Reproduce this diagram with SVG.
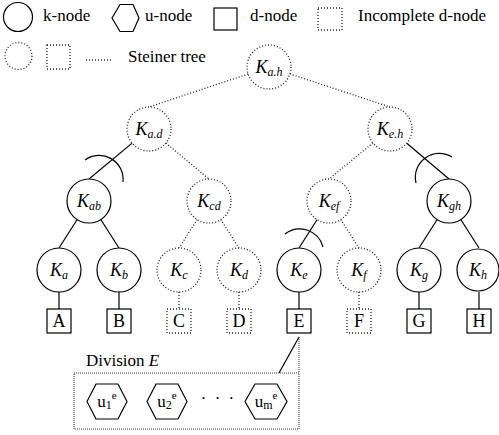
<svg xmlns="http://www.w3.org/2000/svg" width="499" height="435" viewBox="0 0 499 435" font-family="'Liberation Serif', 'Times New Roman', serif">
<style>
text, tspan{font-family:'Liberation Serif','Times New Roman',serif}
text{fill:#000}
.t{font-size:17px}
.s{fill:#fff;stroke:#000;stroke-width:1.2}
.sl{fill:none;stroke:#000;stroke-width:1.2}
.d{fill:#fff;stroke:#222;stroke-width:1.3;stroke-dasharray:1 2}
.dl{fill:none;stroke:#222;stroke-width:1.3;stroke-dasharray:1 2}
.lbl{font-size:18px;text-anchor:middle}
.k{font-style:italic}
.sub{font-size:12px;font-style:italic}
.box{font-size:18px;text-anchor:middle}
.hl{font-size:17px;text-anchor:middle}
</style>
<g id="legend">
<circle class="s" cx="18" cy="17" r="14.5"/>
<text class="t" x="43" y="21">k-node</text>
<polygon class="s" points="112,18 120,4.5 133,4.5 139,18 133,31.5 120,31.5"/>
<text class="t" x="145" y="21">u-node</text>
<rect class="s" x="214" y="8" width="23" height="22"/>
<text class="t" x="250" y="21">d-node</text>
<rect class="d" x="318" y="8" width="24" height="22"/>
<text class="t" x="358" y="21">Incomplete d-node</text>
<circle class="d" cx="18.5" cy="56" r="13.5"/>
<rect class="d" x="47" y="45" width="23" height="24"/>
<line class="dl" x1="86" y1="60" x2="113" y2="60"/>
<text class="t" x="128" y="62">Steiner tree</text>
</g>
<g id="connectors">
<line class="dl" x1="248.1" y1="74" x2="149" y2="107"/>
<line class="dl" x1="289.9" y1="73.9" x2="390" y2="107"/>
<line class="sl" x1="132.1" y1="143.1" x2="89" y2="179"/>
<line class="dl" x1="165.9" y1="143.1" x2="209" y2="179"/>
<line class="dl" x1="373" y1="142.9" x2="329" y2="179"/>
<line class="sl" x1="406.8" y1="143.2" x2="449" y2="179"/>
<line class="sl" x1="77.2" y1="219.5" x2="59" y2="248"/>
<line class="sl" x1="100.8" y1="219.5" x2="119" y2="248"/>
<line class="dl" x1="197.2" y1="219.5" x2="179" y2="248"/>
<line class="dl" x1="220.8" y1="219.5" x2="239" y2="248"/>
<line class="sl" x1="317.2" y1="219.5" x2="299" y2="248"/>
<line class="dl" x1="340.8" y1="219.5" x2="359" y2="248"/>
<line class="sl" x1="437.2" y1="219.5" x2="419" y2="248"/>
<line class="sl" x1="460.8" y1="219.5" x2="479" y2="248"/>
<line class="sl" x1="59" y1="292" x2="59" y2="309"/>
<line class="sl" x1="119" y1="292" x2="119" y2="309"/>
<line class="dl" x1="179" y1="292" x2="179" y2="309"/>
<line class="dl" x1="239" y1="292" x2="239" y2="309"/>
<line class="sl" x1="299" y1="292" x2="299" y2="309"/>
<line class="dl" x1="359" y1="292" x2="359" y2="309"/>
<line class="sl" x1="419" y1="292" x2="419" y2="309"/>
<line class="sl" x1="479" y1="292" x2="479" y2="309"/>
<path class="sl" d="M85,160 A24,24 0 0 1 123,182"/>
<path class="sl" d="M285,234 A24,24 0 0 1 323,247"/>
<path class="sl" d="M416,183 A24,24 0 0 1 452,157"/>
<line class="sl" x1="299" y1="337" x2="279" y2="373"/>
<line x1="299" y1="337" x2="299" y2="373" stroke="#555" stroke-width="1.2" stroke-dasharray="1 1"/>
</g>
<g id="Kah"><circle class="d" cx="269" cy="67" r="22"/><text class="lbl" x="269" y="73"><tspan class="k">K</tspan><tspan class="sub" dy="3">a.h</tspan></text></g>
<g id="Kad"><circle class="d" cx="149" cy="129" r="22"/><text class="lbl" x="149" y="135"><tspan class="k">K</tspan><tspan class="sub" dy="3">a.d</tspan></text></g>
<g id="Keh"><circle class="d" cx="390" cy="129" r="22"/><text class="lbl" x="390" y="135"><tspan class="k">K</tspan><tspan class="sub" dy="3">e.h</tspan></text></g>
<g id="Kab"><circle class="s" cx="89" cy="201" r="22"/><text class="lbl" x="89" y="207"><tspan class="k">K</tspan><tspan class="sub" dy="3">ab</tspan></text></g>
<g id="Kcd"><circle class="d" cx="209" cy="201" r="22"/><text class="lbl" x="209" y="207"><tspan class="k">K</tspan><tspan class="sub" dy="3">cd</tspan></text></g>
<g id="Kef"><circle class="d" cx="329" cy="201" r="22"/><text class="lbl" x="329" y="207"><tspan class="k">K</tspan><tspan class="sub" dy="3">ef</tspan></text></g>
<g id="Kgh"><circle class="s" cx="449" cy="201" r="22"/><text class="lbl" x="449" y="207"><tspan class="k">K</tspan><tspan class="sub" dy="3">gh</tspan></text></g>
<g id="Ka"><circle class="s" cx="59" cy="270" r="22"/><text class="lbl" x="59" y="276"><tspan class="k">K</tspan><tspan class="sub" dy="3">a</tspan></text></g>
<g id="Kb"><circle class="s" cx="119" cy="270" r="22"/><text class="lbl" x="119" y="276"><tspan class="k">K</tspan><tspan class="sub" dy="3">b</tspan></text></g>
<g id="Kc"><circle class="d" cx="179" cy="270" r="22"/><text class="lbl" x="179" y="276"><tspan class="k">K</tspan><tspan class="sub" dy="3">c</tspan></text></g>
<g id="Kd"><circle class="d" cx="239" cy="270" r="22"/><text class="lbl" x="239" y="276"><tspan class="k">K</tspan><tspan class="sub" dy="3">d</tspan></text></g>
<g id="Ke"><circle class="s" cx="299" cy="270" r="22"/><text class="lbl" x="299" y="276"><tspan class="k">K</tspan><tspan class="sub" dy="3">e</tspan></text></g>
<g id="Kf"><circle class="d" cx="359" cy="270" r="22"/><text class="lbl" x="359" y="276"><tspan class="k">K</tspan><tspan class="sub" dy="3">f</tspan></text></g>
<g id="Kg"><circle class="s" cx="419" cy="270" r="22"/><text class="lbl" x="419" y="276"><tspan class="k">K</tspan><tspan class="sub" dy="3">g</tspan></text></g>
<g id="Kh"><circle class="s" cx="478" cy="270" r="21"/><text class="lbl" x="478" y="276"><tspan class="k">K</tspan><tspan class="sub" dy="3">h</tspan></text></g>
<g id="A"><rect class="s" x="47" y="309" width="24" height="24"/><text class="box" x="59" y="327">A</text></g>
<g id="B"><rect class="s" x="107" y="309" width="24" height="24"/><text class="box" x="119" y="327">B</text></g>
<g id="C"><rect class="d" x="167" y="309" width="24" height="24"/><text class="box" x="179" y="327">C</text></g>
<g id="D"><rect class="d" x="227" y="309" width="24" height="24"/><text class="box" x="239" y="327">D</text></g>
<g id="E"><rect class="s" x="287" y="309" width="24" height="24"/><text class="box" x="299" y="327">E</text></g>
<g id="F"><rect class="d" x="347" y="309" width="24" height="24"/><text class="box" x="359" y="327">F</text></g>
<g id="G"><rect class="s" x="407" y="309" width="24" height="24"/><text class="box" x="419" y="327">G</text></g>
<g id="H"><rect class="s" x="467" y="309" width="24" height="24"/><text class="box" x="479" y="327">H</text></g>
<g id="divisionE">
<text class="t" x="86" y="366">Division <tspan font-style="italic">E</tspan></text>
<rect x="74" y="373" width="225" height="56" fill="none" stroke="#444" stroke-width="1.2" stroke-dasharray="1 1"/>
</g>
<g id="u1"><polygon class="s" points="87,401.5 96,384 118,384 127,401.5 118,419 96,419"/><text class="hl" x="107" y="407">u<tspan font-size="12" dy="2">1</tspan><tspan font-size="11" dy="-10">e</tspan></text></g>
<g id="u2"><polygon class="s" points="147,401.5 156,384 178,384 187,401.5 178,419 156,419"/><text class="hl" x="167" y="407">u<tspan font-size="12" dy="2">2</tspan><tspan font-size="11" dy="-10">e</tspan></text></g>
<text class="hl" x="218.5" y="404" letter-spacing="2">· · ·</text>
<g id="um"><polygon class="s" points="245,401.5 255,384 277,384 287,401.5 277,419 255,419"/><text class="hl" x="266" y="407">u<tspan font-size="12" dy="2">m</tspan><tspan font-size="11" dy="-10">e</tspan></text></g>
</svg>
